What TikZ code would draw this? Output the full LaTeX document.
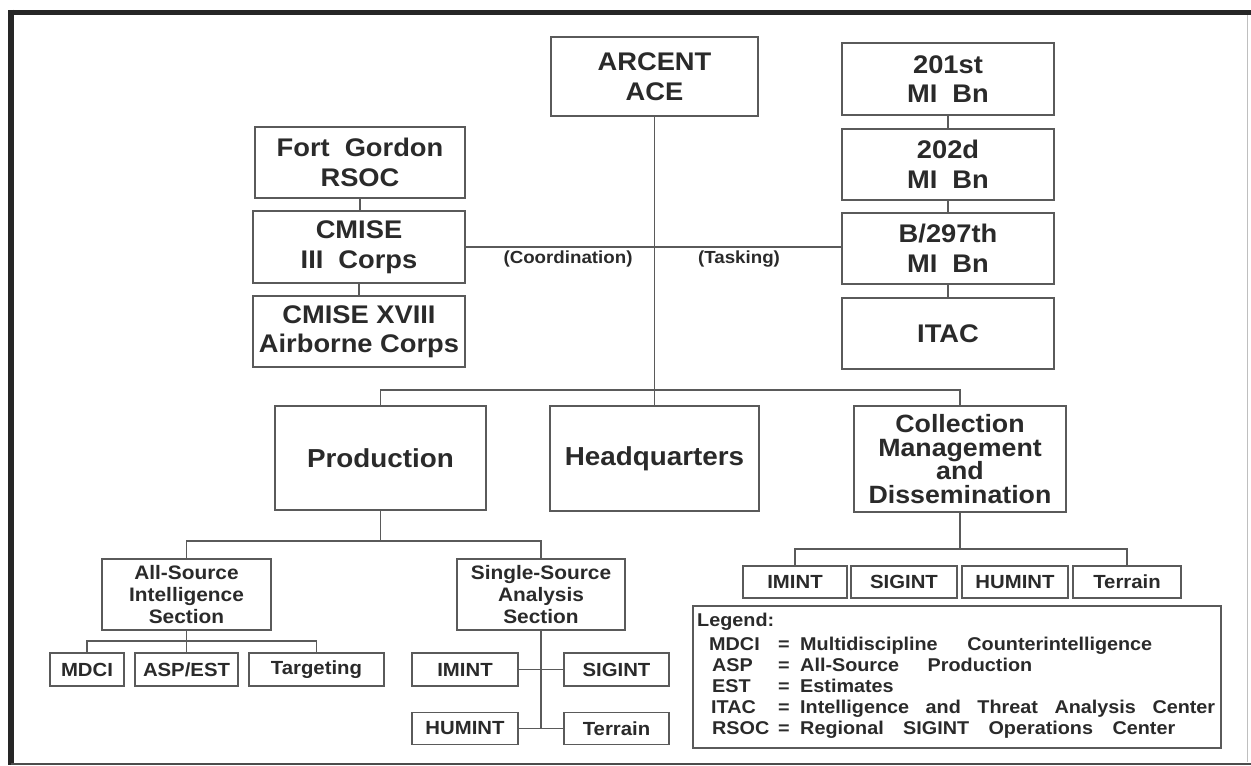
\documentclass[tikz,border=0pt]{standalone}
\usepackage{fontspec}
\setmainfont[FakeStretch=1.07]{Liberation Sans}
\definecolor{linec}{HTML}{5A5A5A}
\definecolor{textc}{HTML}{2A2A2A}
\newcommand\wgap{\hspace{15pt}}
\begin{document}
\begin{tikzpicture}[x=1pt,y=-1pt,
  box/.style={draw=linec, line width=1.1pt, inner sep=0pt, align=center, text=textc},
  bigbox/.style={box, font=\bfseries\fontsize{25.5}{29.5}\selectfont},
  midbox/.style={box, font=\bfseries\fontsize{26}{29}\selectfont},
  secbox/.style={box, font=\bfseries\fontsize{19.5}{22}\selectfont},
  smallbox/.style={box, font=\bfseries\fontsize{19}{22}\selectfont, minimum height=33pt},
  lbl/.style={inner sep=0pt, text=textc, font=\bfseries\fontsize{17.5}{20}\selectfont},
  legtxt/.style={inner sep=0pt, anchor=base west, text=textc, font=\bfseries\fontsize{18.5}{21}\selectfont},
  conn/.style={draw=linec, line width=1.1pt}]
\useasboundingbox (0,0) rectangle (1251,766);
\fill[white] (0,0) rectangle (1251,766);
% frame
\draw[line width=5pt, black!85] (8,12) -- (1251,12);
\draw[line width=5.5pt, black!85] (11,9.5) -- (11,765);
\draw[line width=2pt, black!70] (11,764) -- (1251,764);
\draw[line width=1pt, black!25] (1247,15) -- (1247,762);

% top level
\node[bigbox, minimum width=207pt, minimum height=79pt] (arcent) at (654.5,76.5) {ARCENT\\ACE};
\node[bigbox, minimum width=212pt, minimum height=72pt] (b201) at (948,79) {201st\\MI\wgap Bn};
\node[bigbox, minimum width=212pt, minimum height=71pt] (b202) at (948,164.5) {202d\\MI\wgap Bn};
\node[bigbox, minimum width=212pt, minimum height=71pt] (b297) at (948,248.5) {B/297th\\MI\wgap Bn};
\node[bigbox, minimum width=212pt, minimum height=71pt] (itac) at (948,333.5) {ITAC};
\node[bigbox, minimum width=210pt, minimum height=71pt] (fort) at (360,162.5) {Fort\wgap Gordon\\RSOC};
\node[bigbox, minimum width=212pt, minimum height=72pt] (cmise3) at (359,247) {CMISE\\III\wgap Corps};
\node[bigbox, minimum width=212pt, minimum height=71pt] (cmise18) at (359,331.5) {CMISE XVIII\\Airborne Corps};

\node[lbl] (coord) at (568,259) {(Coordination)};
\node[lbl] (task) at (739,259) {(Tasking)};

% second level
\node[midbox, minimum width=211pt, minimum height=104pt] (prod) at (380.5,458) {Production};
\node[midbox, minimum width=209pt, minimum height=105pt] (hq) at (654.5,458.5) {Headquarters};
\node[box, font=\bfseries\fontsize{25}{23.5}\selectfont, minimum width=212pt, minimum height=106pt] (cmd) at (960,459)
  {Collection\\Management\\and\\Dissemination};

% production sections
\node[secbox, minimum width=169pt, minimum height=71pt] (allsrc) at (186.5,594.5) {All-Source\\Intelligence\\Section};
\node[secbox, minimum width=168pt, minimum height=71pt] (sglsrc) at (541,594.5) {Single-Source\\Analysis\\Section};

\node[smallbox, minimum width=74pt] (mdci) at (87,669.5) {MDCI};
\node[smallbox, minimum width=103pt] (aspest) at (186.5,669.5) {ASP/EST};
\node[smallbox, minimum width=135pt] (target) at (316.5,669.5) {Targeting};

\node[smallbox, minimum width=106pt] (imint1) at (465,669.5) {IMINT};
\node[smallbox, minimum width=105pt] (sigint1) at (616.5,669.5) {SIGINT};
\node[smallbox, minimum width=106pt, minimum height=32pt] (humint1) at (465,728.5) {HUMINT};
\node[smallbox, minimum width=105pt, minimum height=32pt] (terrain1) at (616.5,728.5) {Terrain};

% collection subsections
\node[smallbox, minimum width=104pt, minimum height=32pt] (imint2) at (795,582) {IMINT};
\node[smallbox, minimum width=106pt, minimum height=32pt] (sigint2) at (904,582) {SIGINT};
\node[smallbox, minimum width=106pt, minimum height=32pt] (humint2) at (1015,582) {HUMINT};
\node[smallbox, minimum width=108pt, minimum height=32pt] (terrain2) at (1127,582) {Terrain};

% legend
\node[box, minimum width=528pt, minimum height=142pt] (legend) at (957,677) {};
\node[legtxt] (lg0) at (697,626) {Legend:};
\node[legtxt] (a1) at (709,650) {MDCI};
\node[legtxt] (e1) at (778,650) {=};
\node[legtxt] (d1) at (800,650) {\makebox[352pt][s]{Multidiscipline Counterintelligence}};
\node[legtxt] (a2) at (712,671) {ASP};
\node[legtxt] (e2) at (778,671) {=};
\node[legtxt] (d2) at (800,671) {\makebox[232pt][s]{All-Source Production}};
\node[legtxt] (a3) at (712,692) {EST};
\node[legtxt] (e3) at (778,692) {=};
\node[legtxt] (d3) at (800,692) {Estimates};
\node[legtxt] (a4) at (711,713) {ITAC};
\node[legtxt] (e4) at (778,713) {=};
\node[legtxt] (d4) at (800,713) {\makebox[415pt][s]{Intelligence and Threat Analysis Center}};
\node[legtxt] (a5) at (712,734) {RSOC};
\node[legtxt] (e5) at (778,734) {=};
\node[legtxt] (d5) at (800,734) {\makebox[375pt][s]{Regional SIGINT Operations Center}};

% bus coordinates
\coordinate (busA) at (0,390);
\coordinate (busB) at (0,541);
\coordinate (busC) at (0,641);
\coordinate (busD) at (0,549);

% connectors
\draw[conn] (fort.south) -- (fort.south |- cmise3.north);
\draw[conn] (cmise3.south) -- (cmise3.south |- cmise18.north);
\draw[conn] (b201.south) -- (b202.north);
\draw[conn] (b202.south) -- (b297.north);
\draw[conn] (b297.south) -- (itac.north);
\draw[conn] (cmise3.east) -- (cmise3.east -| b297.west);
\draw[conn] (arcent.south) -- (arcent.south |- hq.north);
\draw[conn] (prod.north) -- (prod.north |- busA) -- (cmd.north |- busA) -- (cmd.north);
\draw[conn] (prod.south) -- (prod.south |- busB);
\draw[conn] (allsrc.north) -- (allsrc.north |- busB) -- (sglsrc.north |- busB) -- (sglsrc.north);
\draw[conn] (allsrc.south) -- (aspest.north);
\draw[conn] (mdci.north) -- (mdci.north |- busC) -- (target.north |- busC) -- (target.north);
\draw[conn] (sglsrc.south) -- (sglsrc.south |- humint1.east);
\draw[conn] (imint1.east) -- (sigint1.west);
\draw[conn] (humint1.east) -- (terrain1.west);
\draw[conn] (cmd.south) -- (cmd.south |- busD);
\draw[conn] (imint2.north) -- (imint2.north |- busD) -- (terrain2.north |- busD) -- (terrain2.north);
\end{tikzpicture}
\end{document}
